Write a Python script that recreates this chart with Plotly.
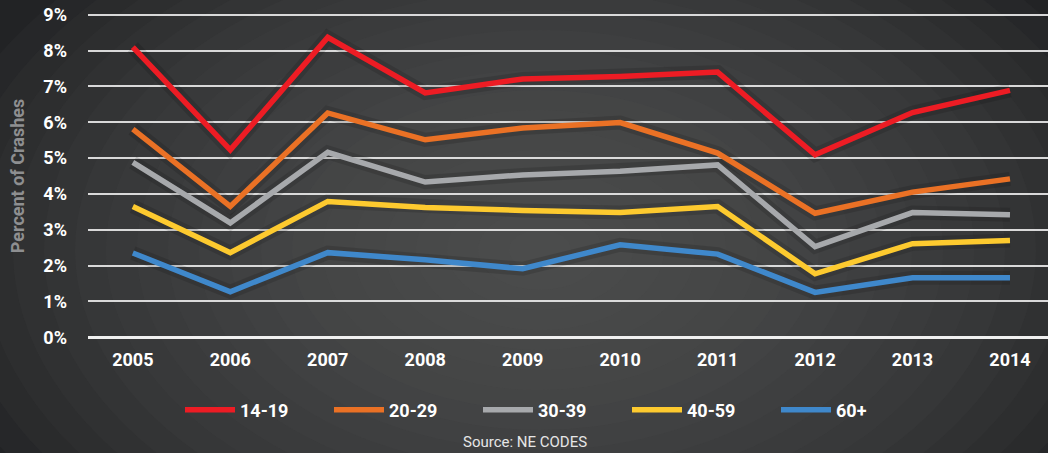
import plotly.graph_objects as go

years = ["2005", "2006", "2007", "2008", "2009", "2010", "2011", "2012", "2013", "2014"]
age_14_19 = [8.10, 5.23, 8.37, 6.82, 7.21, 7.28, 7.40, 5.09, 6.27, 6.89]
age_20_29 = [5.81, 3.65, 6.26, 5.51, 5.84, 5.99, 5.14, 3.46, 4.05, 4.42]
age_30_39 = [4.88, 3.19, 5.16, 4.33, 4.53, 4.63, 4.81, 2.53, 3.48, 3.42]
age_40_59 = [3.65, 2.36, 3.79, 3.62, 3.54, 3.48, 3.65, 1.77, 2.61, 2.70]
age_60_up = [2.35, 1.27, 2.36, 2.16, 1.91, 2.58, 2.32, 1.25, 1.66, 1.66]
y_ticks = [0, 1, 2, 3, 4, 5, 6, 7, 8, 9]

series = [
    ("14-19", age_14_19, "#ed1c24"),
    ("20-29", age_20_29, "#ea7125"),
    ("30-39", age_30_39, "#a7a9ac"),
    ("40-59", age_40_59, "#fdca2f"),
    ("60+", age_60_up, "#3f88cb"),
]

W, H = 1048, 453
ML, MR, MT, MB = 88, 0, 13, 114
FONT = "Roboto, Arial"
PW, PH = W - ML - MR, H - MT - MB

fig = go.Figure()
xi = list(range(len(years)))

# soft shadows under lines
for name, vals, col in series:
    fig.add_trace(go.Scatter(x=xi, y=vals, mode="lines", showlegend=False, hoverinfo="skip",
                             line=dict(color="rgba(0,0,0,0.13)", width=14)))
for name, vals, col in series:
    fig.add_trace(go.Scatter(x=xi, y=vals, mode="lines", name=name,
                             line=dict(color=col, width=5.5)))

# radial background glow
shapes = []
n = 20
cx, cy = (540 - ML) / PW, ((H - MB) - 250) / PH
for i in range(n):
    f = 1 - i / n
    rx, ry = 620 / PW * f, 400 / PH * f
    shapes.append(dict(type="circle", xref="paper", yref="paper", layer="below",
                       x0=cx - rx, x1=cx + rx, y0=cy - ry, y1=cy + ry,
                       fillcolor="rgba(88,90,92,0.075)", line=dict(width=0)))

def py(px):
    return ((H - MB) - px) / PH

fig.update_layout(
    width=W, height=H,
    margin=dict(l=ML, r=MR, t=MT, b=MB),
    paper_bgcolor="#222325",
    plot_bgcolor="rgba(0,0,0,0)",
    shapes=shapes,
    font=dict(family=FONT, color="white"),
    xaxis=dict(range=[-0.46, 9.39], tickmode="array", tickvals=xi, ticktext=years,
               showgrid=False, zeroline=False, showline=False, ticks="",
               tickfont=dict(family=FONT, size=18, color="white", weight="bold"),
               ticklabelstandoff=8),
    yaxis=dict(range=[-0.05, 9.05], tickmode="array", tickvals=y_ticks,
               ticktext=[f"{v}%" for v in y_ticks],
               showgrid=True, gridcolor="rgba(235,235,235,0.9)", gridwidth=1.5,
               zeroline=True, zerolinecolor="#f0f0f0", zerolinewidth=2.5,
               showline=False, ticks="",
               tickfont=dict(family=FONT, size=18, color="white", weight="bold"),
               ticklabelstandoff=20,
               title=dict(text="Percent of Crashes", standoff=14,
                          font=dict(family=FONT, size=18, color="#8e8f91", weight="bold"))),
    legend=dict(orientation="h", x=(180 - ML) / PW, xanchor="left", y=py(410), yanchor="middle",
                entrywidth=84, entrywidthmode="pixels", itemwidth=50,
                font=dict(family=FONT, size=18, color="white", weight="bold"),
                bgcolor="rgba(0,0,0,0)"),
    annotations=[dict(text="Source: NE CODES", xref="paper", yref="paper",
                      x=(525 - ML) / PW, y=py(442),
                      xanchor="center", yanchor="middle", showarrow=False,
                      font=dict(family=FONT, size=15, color="#e6e6e6"))],
)

fig.write_html("out.html", config={"displayModeBar": False},
               post_script="document.body.style.margin='0';document.body.style.overflow='hidden';")
